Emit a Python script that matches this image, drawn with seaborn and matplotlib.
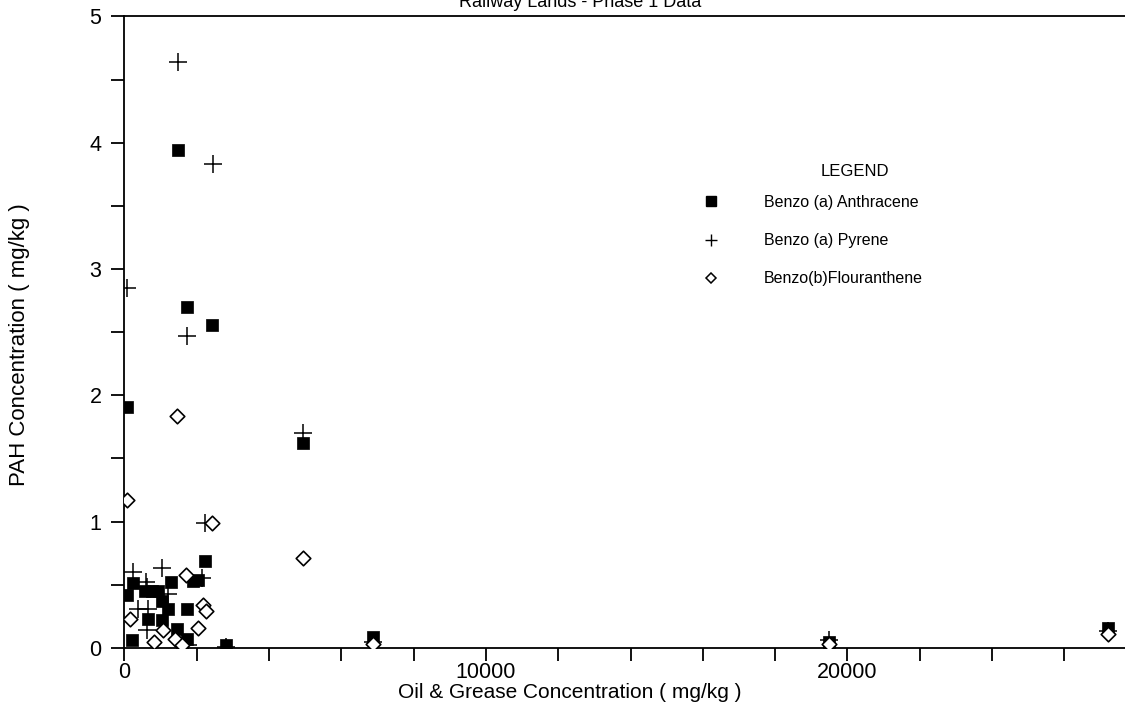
import matplotlib
matplotlib.use("Agg")
import matplotlib.pyplot as plt
import seaborn as sns
import pandas as pd
from matplotlib.lines import Line2D
from matplotlib.ticker import MultipleLocator, FuncFormatter

# ---- data ----
anth_x = [1477, 1726, 2425, 83, 4951, 2232, 2047, 1900, 1283, 249, 66, 570, 757,
          940, 1034, 1217, 1742, 664, 1034, 1449, 205, 1726, 1587, 2804, 6869,
          19490, 27200]
anth_y = [3.94, 2.70, 2.56, 1.91, 1.62, 0.69, 0.54, 0.53, 0.52, 0.51, 0.42, 0.45,
          0.45, 0.45, 0.37, 0.31, 0.31, 0.23, 0.22, 0.15, 0.06, 0.07, 0.01, 0.02,
          0.09, 0.05, 0.16]

pyr_x = [1477, 2461, 66, 1726, 4951, 2232, 249, 1034, 2150, 592, 620, 1217, 387,
         664, 620, 1770, 2804, 6869, 19490, 27200]
pyr_y = [4.64, 3.83, 2.85, 2.47, 1.70, 0.99, 0.60, 0.63, 0.55, 0.52, 0.48, 0.43,
         0.31, 0.31, 0.14, 0.02, 0.01, 0.05, 0.06, 0.13]

flou_x = [1449, 83, 2434, 4951, 1706, 2185, 2250, 158, 2047, 1079, 821, 1402,
          1587, 6869, 19490, 27200]
flou_y = [1.84, 1.17, 0.99, 0.71, 0.58, 0.34, 0.29, 0.23, 0.16, 0.14, 0.05, 0.07,
          0.02, 0.03, 0.03, 0.11]

series_names = ["Benzo (a) Anthracene", "Benzo (a) Pyrene", "Benzo(b)Flouranthene"]
title_text = "Railway Lands - Phase 1 Data"
xlabel_text = "Oil & Grease Concentration ( mg/kg )"
ylabel_text = "PAH Concentration ( mg/kg )"

df_a = pd.DataFrame({"x": anth_x, "y": anth_y})
df_p = pd.DataFrame({"x": pyr_x, "y": pyr_y})
df_f = pd.DataFrame({"x": flou_x, "y": flou_y})

sns.set_theme(style="white")
plt.rcParams["font.family"] = ["Liberation Sans", "DejaVu Sans"]

W, H = 1125, 722
fig = plt.figure(figsize=(W / 100, H / 100), dpi=100)
ax = fig.add_axes([124.3 / W, 1 - 647.9 / H, 1 - 124.3 / W, (647.9 - 16.4) / H])

sns.scatterplot(data=df_a, x="x", y="y", marker="s", s=85, color="black",
                edgecolor="black", linewidth=0.5, ax=ax, zorder=3)
sns.scatterplot(data=df_p, x="x", y="y", marker="+", s=150, color="black",
                linewidth=1.1, ax=ax, zorder=4)
sns.scatterplot(data=df_f, x="x", y="y", marker="D", s=55, facecolor="white",
                edgecolor="black", linewidth=1.2, ax=ax, zorder=5)

ax.set_xlim(0, (W - 124.3) / 0.03616)
ax.set_ylim(0, 5)
ax.xaxis.set_major_locator(MultipleLocator(10000))
ax.xaxis.set_minor_locator(MultipleLocator(2000))
ax.yaxis.set_major_locator(MultipleLocator(1))
ax.yaxis.set_minor_locator(MultipleLocator(0.5))
ax.xaxis.set_major_formatter(FuncFormatter(lambda v, p: f"{int(v)}"))

for side in ["left", "bottom", "top"]:
    ax.spines[side].set_visible(True)
    ax.spines[side].set_color("black")
    ax.spines[side].set_linewidth(1.3)
ax.spines["right"].set_visible(False)

ax.tick_params(axis="both", which="both", direction="out", color="black",
               width=1.3, length=9.5, labelsize=15.5, labelcolor="black")
ax.tick_params(axis="x", which="both", bottom=True, top=False, pad=1)
ax.tick_params(axis="y", which="both", left=True, right=False, pad=7)

ax.set_xlabel("")
ax.set_ylabel("")
fig.text(570 / W, 1 - 693 / H, xlabel_text, ha="center", va="center",
         fontsize=15, color="black")
fig.text(20 / W, 1 - 345 / H, ylabel_text, ha="center", va="center",
         rotation=90, fontsize=16, color="black")
fig.text(580 / W, 1 - 7 / H, title_text, ha="center", va="baseline",
         fontsize=13, color="black")

# legend
fig.text(855 / W, 1 - 172 / H, "LEGEND", ha="center", va="center",
         fontsize=12, color="black")
handles = [
    Line2D([], [], linestyle="none", marker="s", markersize=7, color="black"),
    Line2D([], [], linestyle="none", marker="+", markersize=9, color="black",
           markeredgewidth=1.0),
    Line2D([], [], linestyle="none", marker="D", markersize=5.5,
           markerfacecolor="white", markeredgecolor="black", markeredgewidth=1.1),
]
leg = ax.legend(handles, series_names, loc="upper left",
                bbox_to_anchor=(695 / W, 1 - 187 / H), bbox_transform=fig.transFigure,
                frameon=False, fontsize=11.5, labelspacing=1.45, handletextpad=2.8,
                handlelength=1.0, borderpad=0)
for t in leg.get_texts():
    t.set_color("black")

fig.savefig("out.png", dpi=100)
